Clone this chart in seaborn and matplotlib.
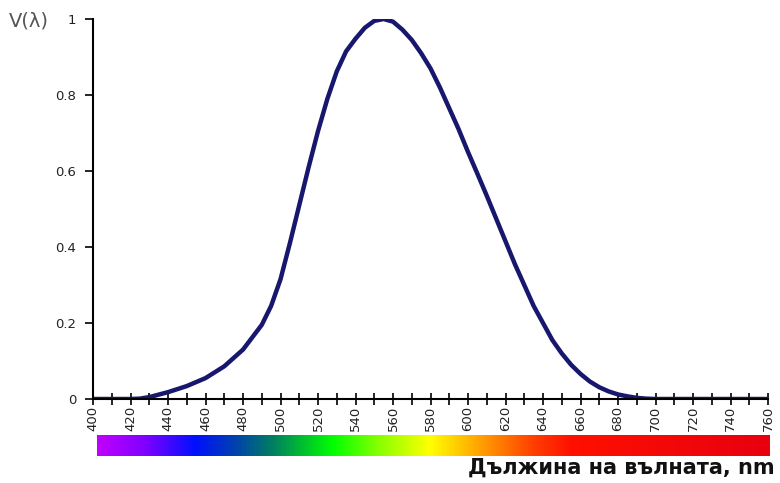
import numpy as np
import pandas as pd
import seaborn as sns
import matplotlib.pyplot as plt
from matplotlib.colors import LinearSegmentedColormap

# V(lambda) curve
wavelengths = [400, 410, 420, 425, 430, 440, 450, 460, 470, 480, 490, 495, 500, 505,
               510, 515, 520, 525, 530, 535, 540, 545, 550, 555, 560, 565, 570, 575,
               580, 585, 590, 595, 600, 605, 610, 615, 620, 625, 630, 635, 640, 645,
               650, 655, 660, 665, 670, 675, 680, 685, 690, 695, 700, 720, 740, 760]
v_lambda = [0.0, 0.0, 0.0, 0.001, 0.005, 0.018, 0.034, 0.055, 0.086, 0.13, 0.195,
            0.245, 0.315, 0.41, 0.51, 0.61, 0.705, 0.79, 0.862, 0.915, 0.948, 0.977,
            0.995, 1.0, 0.993, 0.972, 0.945, 0.91, 0.87, 0.82, 0.765, 0.71, 0.65,
            0.593, 0.535, 0.475, 0.415, 0.355, 0.30, 0.245, 0.20, 0.155, 0.12, 0.09,
            0.066, 0.046, 0.031, 0.02, 0.012, 0.007, 0.003, 0.001, 0.0, 0.0, 0.0, 0.0]

x_ticks = list(range(400, 761, 20))
y_ticks = [0, 0.2, 0.4, 0.6, 0.8, 1]
y_labels = ["0", "0.2", "0.4", "0.6", "0.8", "1"]

# spectrum colour stops for the bar under the axis
spec_nm = [400, 425, 452, 473, 494, 526, 549, 578, 610, 633, 654, 760]
spec_col = ["#c000ff", "#8000ff", "#0010ff", "#0040b0", "#008060", "#00ff00",
            "#80ff00", "#ffff00", "#ff9000", "#ff4000", "#ff1000", "#e80010"]

df = pd.DataFrame({"nm": wavelengths, "V": v_lambda})

sns.set_theme(style="white")
plt.rcParams['font.family'] = ['DejaVu Sans']

fig = plt.figure(figsize=(7.8, 4.83), dpi=100)
ax = fig.add_axes([93 / 780, 1 - 399 / 483, 675 / 780, 380 / 483])

sns.lineplot(data=df, x="nm", y="V", ax=ax, color="#17176e", linewidth=3.2)

ax.set_xlim(400, 760)
ax.set_ylim(0, 1)
ax.set_xticks(x_ticks)
ax.set_xticklabels([str(t) for t in x_ticks], rotation=90, fontsize=9.5, color="#222222")
ax.set_xticks(range(400, 761, 10), minor=True)
ax.set_yticks(y_ticks)
ax.set_yticklabels(y_labels, fontsize=9.5, color="#222222")
ax.tick_params(axis="x", which="both", direction="inout", length=8, width=1.2,
               color="black", bottom=True, pad=1)
ax.tick_params(axis="y", direction="out", length=6, width=1.2, color="black",
               left=True, pad=6)
ax.set_xlabel("")
ax.set_ylabel("")
for side in ["top", "right"]:
    ax.spines[side].set_visible(False)
for side in ["left", "bottom"]:
    ax.spines[side].set_color("black")
    ax.spines[side].set_linewidth(1.5)
ax.grid(False)

# spectrum bar
cmap = LinearSegmentedColormap.from_list(
    "spec", [((n - 400) / 360, c) for n, c in zip(spec_nm, spec_col)])
bar_ax = fig.add_axes([97 / 780, 1 - 456 / 483, 673 / 780, 21 / 483])
bar_ax.imshow(np.linspace(0, 1, 512)[None, :], aspect="auto", cmap=cmap)
bar_ax.axis("off")

fig.text(9 / 780, 1 - 21 / 483, "V(λ)", fontsize=14, color="#555555", va="center")
fig.text(775 / 780, 1 - 468 / 483, "Дължина на вълната, nm", fontsize=15,
         fontweight="bold", color="#111111", ha="right", va="center")

fig.savefig("out.png", dpi=100)
